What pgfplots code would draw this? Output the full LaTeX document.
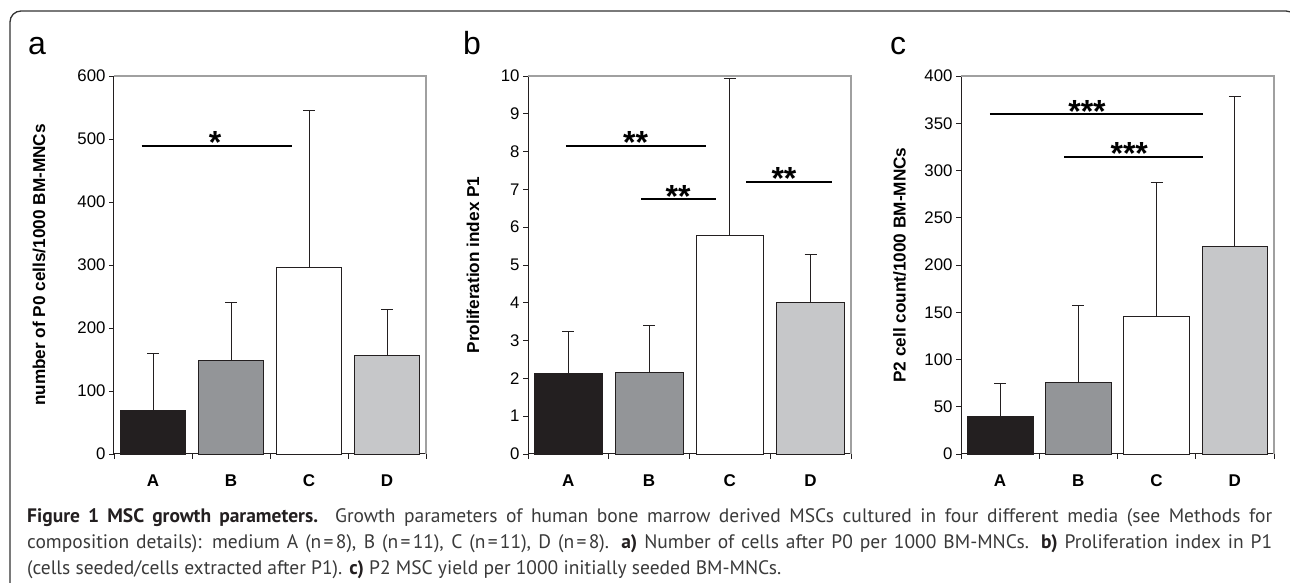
\documentclass[border=0pt]{standalone}
\usepackage{pgfplots}
\pgfplotsset{compat=1.18}
\usepackage{fontspec}
\setmainfont{Liberation Sans}
\newfontfamily\capfont{PT Sans}
\definecolor{cA}{HTML}{231F20}
\definecolor{cB}{HTML}{939598}
\definecolor{cD}{HTML}{C6C7C9}
\definecolor{edge}{HTML}{231F20}
\definecolor{boxgrey}{HTML}{A0A0A0}
\definecolor{captxt}{HTML}{3A3A3A}
\definecolor{framecol}{HTML}{333333}

\pgfplotsset{
 panel/.style={
  scale only axis, height=378pt,
  xmin=-0.5, xmax=3.5, ymin=0,
  axis x line*=bottom, axis y line*=left,
  axis line style={line width=1pt, color=edge},
  tick align=outside,
  major tick length=5pt,
  tick style={line width=0.8pt, color=edge},
  xtick={-0.5,0.5,1.5,2.5,3.5}, xticklabels={,,,,},
  extra x ticks={0,1,2,3}, extra x tick labels={A,B,C,D},
  extra x tick style={major tick length=0pt,
     tick label style={font=\fontsize{17}{18}\selectfont\bfseries, yshift=-17pt}},
  yticklabel style={font=\fontsize{16.8}{18}\selectfont},
  /pgf/number format/assume math mode=true,
  ylabel style={font=\fontsize{17.2}{18}\selectfont\bfseries, anchor=center},
  clip=false,
 },
 bar/.style={ybar, bar width=0.84, bar shift=0pt, draw=edge, line width=0.8pt,
   error bars/.cd, y dir=plus, y explicit,
   error bar style={line width=0.8pt, color=edge},
   error mark options={rotate=90, line width=0.8pt, color=edge, mark size=6pt}},
 sig/.style={black, line width=2.2pt, mark=none},
}
\tikzset{sigstar/.style={font=\fontsize{32}{32}\selectfont\bfseries, anchor=base, yshift=-8pt, inner sep=0pt}}

\newcommand\capA{{\color{cA}\bfseries Figure 1 MSC growth parameters.} Growth parameters of human bone marrow derived MSCs cultured in four different media (see Methods for}
\newcommand\capB{composition details): medium A (n\hspace{0.12em}=\hspace{0.12em}8), B (n\hspace{0.12em}=\hspace{0.12em}11), C (n\hspace{0.12em}=\hspace{0.12em}11), D (n\hspace{0.12em}=\hspace{0.12em}8). {\color{cA}\bfseries a)} Number of cells after P0 per 1000 BM-MNCs. {\color{cA}\bfseries b)} Proliferation index in P1}
\newcommand\capC{(cells seeded/cells extracted after P1). {\color{cA}\bfseries c)} P2 MSC yield per 1000 initially seeded BM-MNCs.}
\newlength\capnat

\begin{document}%
\settowidth\capnat{\capfont\fontsize{17}{20}\selectfont\capB}%
\pgfmathsetmacro\capsize{min(19.5,max(15,1262/\capnat*17))}%
\begin{tikzpicture}
\path[use as bounding box] (0pt,0pt) rectangle (1290pt,583pt);
\begin{scope}
\clip (0pt,0pt) rectangle (1290pt,583pt);
\draw[line width=1.3pt, color=framecol, rounded corners=11pt] (10pt,-20pt) -- (10pt,572pt) -- (1297pt,572pt) -- (1297pt,-20pt);
\end{scope}

% panel letters
\node[font=\fontsize{32}{32}\selectfont, anchor=base] at (37pt,528pt) {a};
\node[font=\fontsize{32}{32}\selectfont, anchor=base] at (472pt,528pt) {b};
\node[font=\fontsize{32}{32}\selectfont, anchor=base] at (898pt,528pt) {c};

% panel a
\begin{axis}[panel, at={(114pt,129pt)}, anchor=south west, width=312pt,
  ymax=600, ytick={0,100,...,600},
  ylabel={number of P0 cells/1000 BM-MNCs},
  ylabel style={at={(axis description cs:-0.240,0.5)}}]
\addplot[fill=cA, bar] coordinates {(0,69.8) +- (0,90.0)};
\addplot[fill=cB, bar] coordinates {(1,148.7) +- (0,91.5)};
\addplot[fill=white, bar] coordinates {(2,296.8) +- (0,249.2)};
\addplot[fill=cD, bar] coordinates {(3,157.1) +- (0,72.0)};
\addplot[sig] coordinates {(-0.145,488.9) (1.78,488.9)};
\node[sigstar] at (axis cs:0.796,488.9) {*};
\draw[boxgrey, line width=1.5pt] (rel axis cs:0,1) -- (rel axis cs:1,1) -- (rel axis cs:1,0);
\end{axis}

% panel b
\begin{axis}[panel, at={(528pt,129pt)}, anchor=south west, width=323pt,
  ymax=10, ytick={0,1,...,10},
  ylabel={Proliferation index P1},
  ylabel style={at={(axis description cs:-0.170,0.5)}}]
\addplot[fill=cA, bar] coordinates {(0,2.125) +- (0,1.115)};
\addplot[fill=cB, bar] coordinates {(1,2.15) +- (0,1.24)};
\addplot[fill=white, bar] coordinates {(2,5.78) +- (0,4.15)};
\addplot[fill=cD, bar] coordinates {(3,4.0) +- (0,1.27)};
\addplot[sig] coordinates {(-0.03,8.15) (1.70,8.15)};
\addplot[sig] coordinates {(0.90,6.74) (1.83,6.74)};
\addplot[sig] coordinates {(2.20,7.20) (3.27,7.20)};
\node[sigstar] at (axis cs:0.833,8.15) {**};
\node[sigstar] at (axis cs:1.36,6.74) {**};
\node[sigstar] at (axis cs:2.67,7.20) {**};
\draw[boxgrey, line width=1.5pt] (rel axis cs:0,1) -- (rel axis cs:1,1) -- (rel axis cs:1,0);
\end{axis}

% panel c
\begin{axis}[panel, at={(961pt,129pt)}, anchor=south west, width=313pt,
  ymax=400, ytick={0,50,...,400},
  ylabel={P2 cell count/1000 BM-MNCs},
  ylabel style={at={(axis description cs:-0.196,0.5)}}]
\addplot[fill=cA, bar] coordinates {(0,40.2) +- (0,34.6)};
\addplot[fill=cB, bar] coordinates {(1,76.2) +- (0,81.1)};
\addplot[fill=white, bar] coordinates {(2,145.7) +- (0,141.4)};
\addplot[fill=cD, bar] coordinates {(3,219.4) +- (0,159.1)};
\addplot[sig] coordinates {(-0.13,359.4) (2.59,359.4)};
\addplot[sig] coordinates {(0.82,314.6) (2.59,314.6)};
\node[sigstar] at (axis cs:1.11,359.4) {***};
\node[sigstar] at (axis cs:1.65,314.6) {***};
\draw[boxgrey, line width=1.5pt] (rel axis cs:0,1) -- (rel axis cs:1,1) -- (rel axis cs:1,0);
\end{axis}

% caption
\begin{scope}[font=\capfont\fontsize{\capsize}{20}\selectfont, color=captxt]
\node[anchor=base west, inner sep=0pt] at (27pt,60pt) {\makebox[1245pt][s]{\capA}};
\node[anchor=base west, inner sep=0pt] at (27pt,34pt) {\makebox[1245pt][s]{\capB}};
\node[anchor=base west, inner sep=0pt] at (27pt,8pt) {\capC};
\end{scope}
\end{tikzpicture}%
\end{document}
